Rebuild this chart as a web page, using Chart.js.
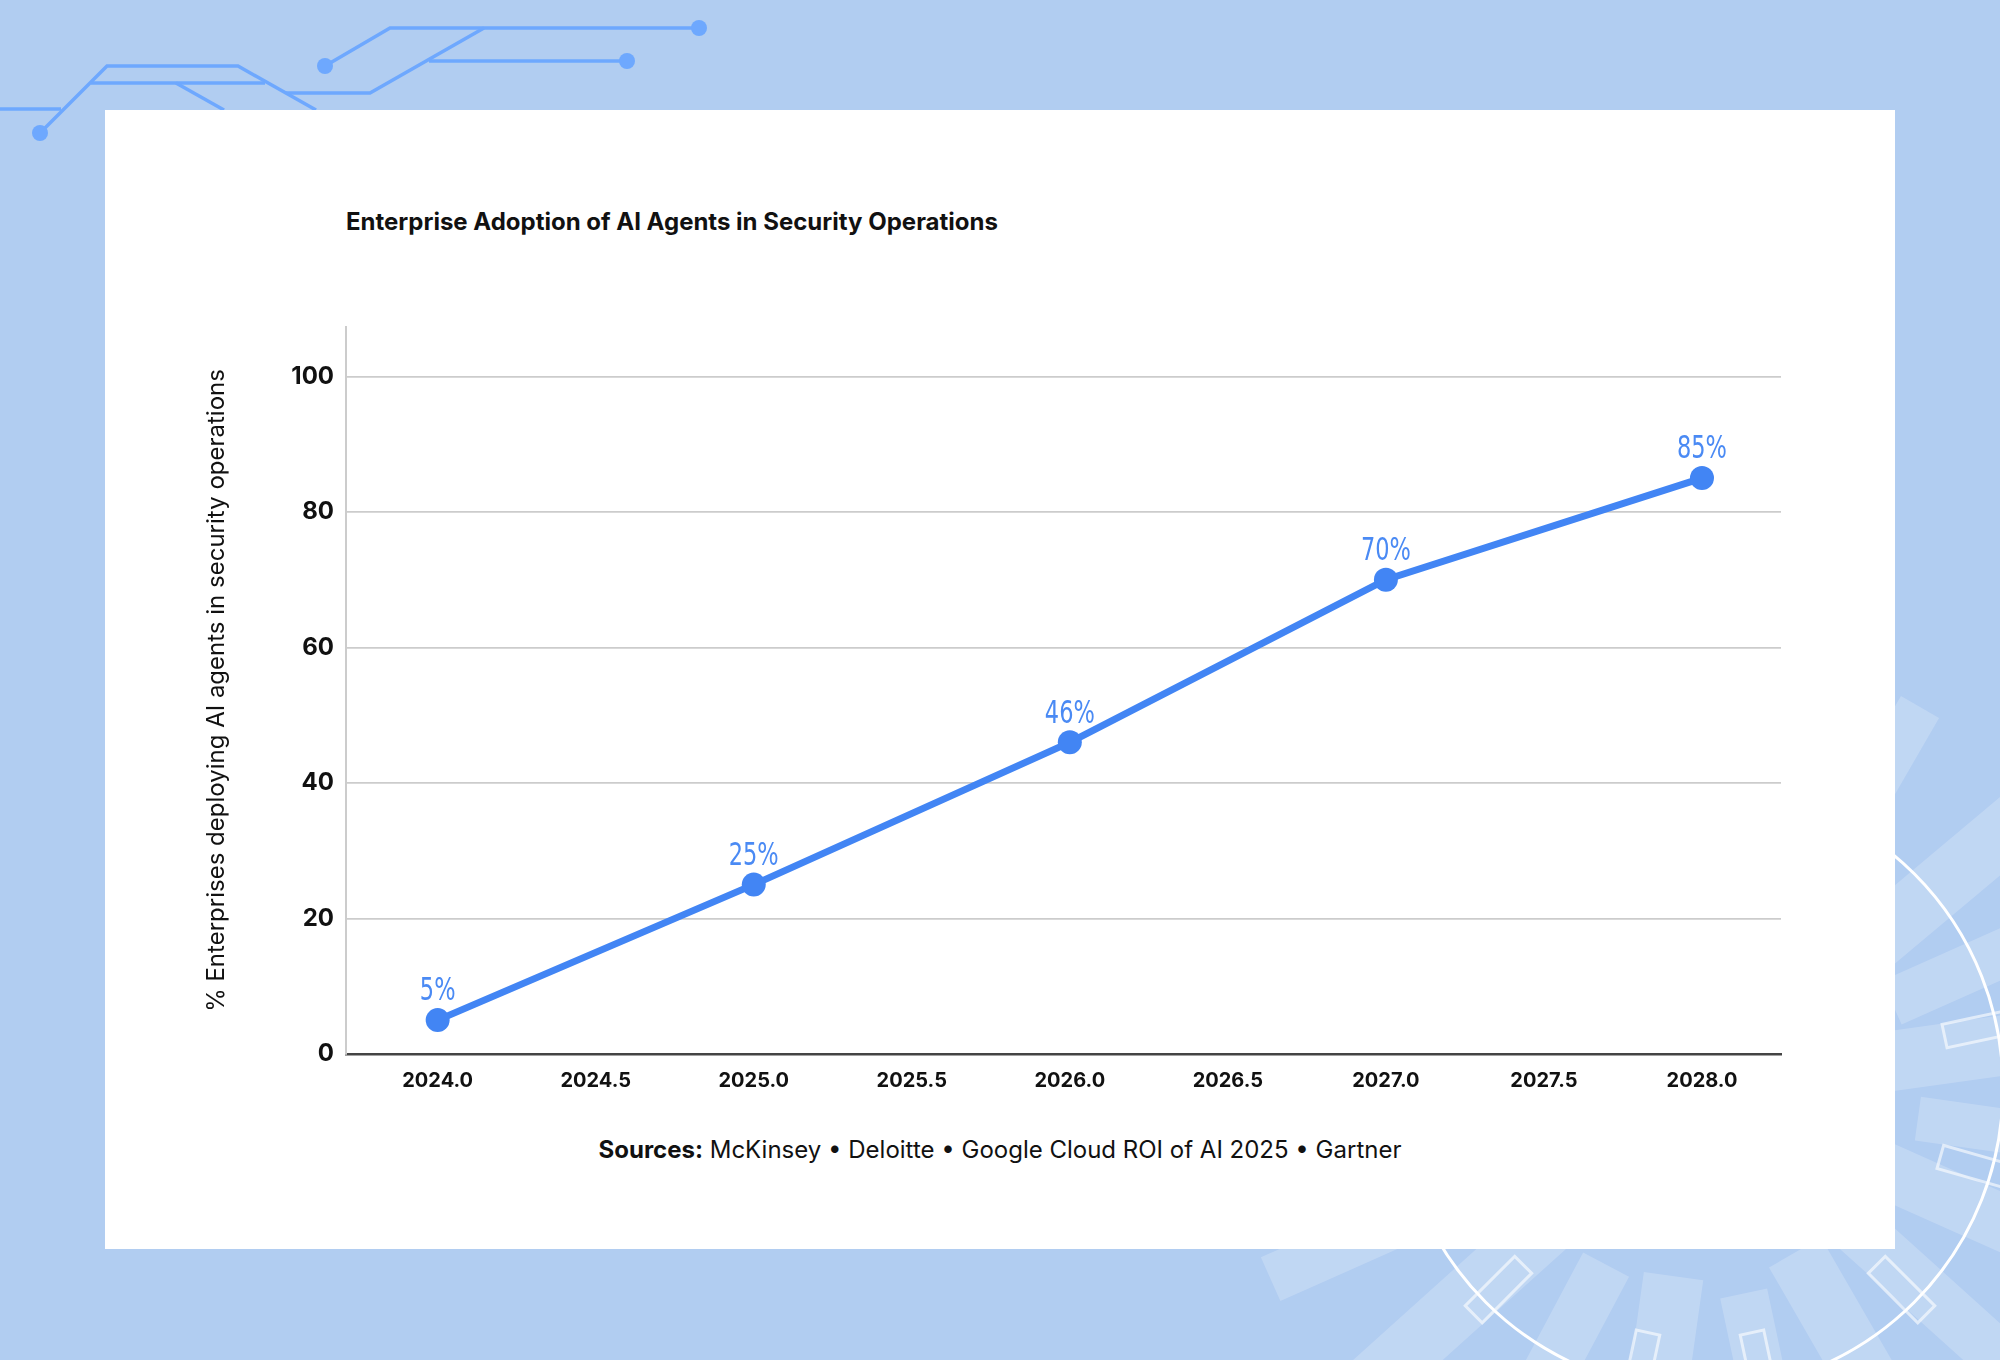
<!DOCTYPE html>
<html>
<head>
<meta charset="utf-8">
<script src="https://cdn.jsdelivr.net/npm/chart.js@4.4.1/dist/chart.umd.min.js"></script>
<style>
  html, body { margin: 0; padding: 0; }
  body { width: 2000px; height: 1360px; background: #b1cdf1; position: relative; overflow: hidden; font-family: Inter, "Noto Sans", sans-serif; }
  #deco { position: absolute; left: 0; top: 0; }
  #card { position: absolute; left: 105px; top: 110px; width: 1790px; height: 1139px; background: #fff; }
  #wrap { position: absolute; left: 0; top: 0; width: 2000px; height: 1360px; }
  #title { position: absolute; left: 346px; top: 208px; font-size: 24px; font-weight: 700; color: #111; line-height: 28px; white-space: nowrap; }
  #sources { position: absolute; left: 0; width: 2000px; top: 1136px; text-align: center; font-size: 24px; color: #111; line-height: 28px; }
  #sources b { font-weight: 700; }
</style>
</head>
<body>
<svg id="deco" width="2000" height="1360" viewBox="0 0 2000 1360">
  <g fill="none" stroke="#6ea8fe" stroke-width="3.5">
    <polyline points="40,133 107,66 238,66 316,110" />
    <line x1="0" y1="109" x2="61" y2="109" />
    <line x1="91" y1="83" x2="265" y2="83" />
    <line x1="176" y1="83" x2="224" y2="110" />
    <polyline points="286,93 370,93 484,28" />
    <polyline points="325,66 390,28 699,28" />
    <line x1="429" y1="61" x2="627" y2="61" />
  </g>
  <g fill="#6ea8fe">
    <circle cx="40" cy="133" r="8" />
    <circle cx="325" cy="66" r="8" />
    <circle cx="699" cy="28" r="8" />
    <circle cx="627" cy="61" r="8" />
  </g>
  <g transform="translate(1700,1088)" fill="#ffffff" fill-opacity="0.2">
    <rect x="210" y="-28" width="240" height="56" transform="rotate(-80)" />
    <rect x="200" y="-22" width="240" height="44" transform="rotate(-60)" />
    <rect x="180" y="-30" width="290" height="60" transform="rotate(-40)" />
    <rect x="210" y="-24" width="260" height="48" transform="rotate(-24)" />
    <rect x="190" y="-30" width="300" height="60" transform="rotate(-8)" />
    <rect x="220" y="-22" width="240" height="44" transform="rotate(8)" />
    <rect x="180" y="-28" width="280" height="56" transform="rotate(24)" />
    <rect x="200" y="-26" width="260" height="52" transform="rotate(42)" />
    <rect x="190" y="-30" width="280" height="60" transform="rotate(60)" />
    <rect x="210" y="-24" width="250" height="48" transform="rotate(78)" />
    <rect x="190" y="-30" width="280" height="60" transform="rotate(98)" />
    <rect x="200" y="-26" width="260" height="52" transform="rotate(118)" />
    <rect x="180" y="-30" width="300" height="60" transform="rotate(138)" />
    <rect x="210" y="-24" width="260" height="48" transform="rotate(156)" />
    <rect x="190" y="-28" width="280" height="56" transform="rotate(172)" />
  </g>
  <g transform="translate(1700,1088)" fill="none" stroke="#ffffff" stroke-opacity="0.6" stroke-width="3">
    <rect x="250" y="-12" width="70" height="24" transform="rotate(-75)" />
    <rect x="250" y="-12" width="70" height="24" transform="rotate(-12)" />
    <rect x="250" y="-12" width="70" height="24" transform="rotate(16)" />
    <rect x="250" y="-12" width="70" height="24" transform="rotate(45)" />
    <rect x="250" y="-12" width="70" height="24" transform="rotate(78)" />
    <rect x="250" y="-12" width="70" height="24" transform="rotate(102)" />
    <rect x="250" y="-12" width="70" height="24" transform="rotate(135)" />
  </g>
  <circle cx="1700" cy="1088" r="303" fill="none" stroke="#ffffff" stroke-width="3" />
</svg>
<div id="card"></div>
<div id="title">Enterprise Adoption of AI Agents in Security Operations</div>
<div id="sources"><b>Sources:</b> McKinsey • Deloitte • Google Cloud ROI of AI 2025 • Gartner</div>
<div id="wrap"><canvas id="myChart" width="2000" height="1360"></canvas></div>
<script>
// data
const years = [2024, 2025, 2026, 2027, 2028];
const adoption = [5, 25, 46, 70, 85];
const pointLabels = ['5%', '25%', '46%', '70%', '85%'];
const yAxisTitle = '% Enterprises deploying AI agents in security operations';

const lineBlue = '#4285f4';

var points = years.map(function (y, i) { return { x: y, y: adoption[i] }; });

// draws the % label above every point (squeezed sideways, the original uses a condensed face)
const valueLabels = {
    id: 'valueLabels',
    afterDatasetsDraw(chart) {
        const ctx = chart.ctx;
        const meta = chart.getDatasetMeta(0);
        ctx.save();
        ctx.fillStyle = '#4a8af4';
        ctx.font = '500 32px "Liberation Sans Narrow", "DejaVu Sans Condensed", sans-serif';
        ctx.textAlign = 'center';
        ctx.textBaseline = 'middle';
        meta.data.forEach(function (pt, i) {
            ctx.save();
            ctx.translate(pt.x, pt.y - 28);
            ctx.scale(0.78, 1);
            ctx.fillText(pointLabels[i], 0, 0);
            ctx.restore();
        });
        ctx.restore();
    }
};

var ctx = document.getElementById('myChart').getContext('2d');
const myChart = new Chart(ctx, {
    type: 'line',
    data: {
        datasets: [{
            data: points,
            borderColor: lineBlue,
            backgroundColor: lineBlue,
            borderWidth: 7,
            pointRadius: 12,
            pointHoverRadius: 12,
            pointBorderWidth: 0,
            tension: 0,
        }]
    },
    options: {
        responsive: false,
        animation: false,
        devicePixelRatio: 1,
        layout: { padding: { left: 200, top: 327, right: 219, bottom: 246 } },
        plugins: { legend: { display: false }, tooltip: { enabled: false } },
        scales: {
            x: {
                type: 'linear',
                min: 2023.71,
                max: 2028.25,
                afterFit: function (s) { s.height = 60; },
                grid: { display: false, drawTicks: false },
                border: { color: '#444', width: 2.5 },
                ticks: {
                    stepSize: 0.5,
                    includeBounds: false,
                    padding: 15,
                    color: '#111',
                    font: { family: 'Inter', size: 20, weight: 'bold' },
                    callback: function (v) { return v.toFixed(1); }
                }
            },
            y: {
                min: 0,
                max: 107.3,
                afterFit: function (s) { s.width = 146; },
                grid: { color: '#cccccc', lineWidth: 1.8, drawTicks: false },
                border: { color: '#cccccc', width: 2 },
                ticks: {
                    stepSize: 20,
                    includeBounds: false,
                    padding: 12,
                    color: '#111',
                    font: { family: 'Inter', size: 24, weight: 'bold' }
                },
                title: {
                    display: true,
                    text: yAxisTitle,
                    color: '#111',
                    padding: { top: 2, bottom: 0 },
                    font: { family: 'Inter', size: 24, weight: 'normal' }
                }
            }
        }
    },
    plugins: [valueLabels]
});
</script>
</body>
</html>
